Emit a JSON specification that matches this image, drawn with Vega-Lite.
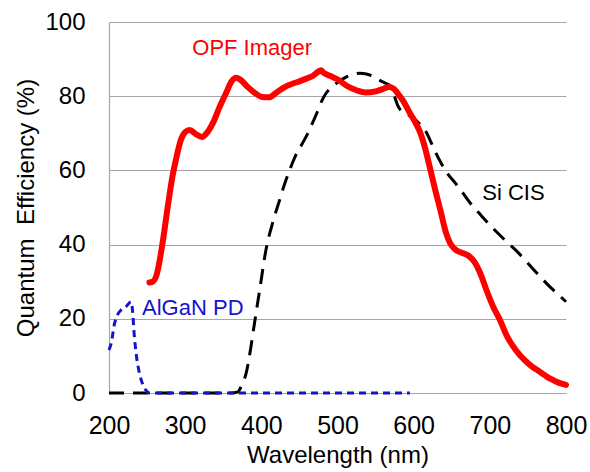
{
  "$schema": "https://vega.github.io/schema/vega-lite/v6.json",
  "width": 457,
  "height": 371,
  "autosize": {"type": "none"},
  "padding": {"left": 109, "top": 22, "right": 24, "bottom": 79},
  "background": "white",
  "config": {"view": {"stroke": null}, "font": "Liberation Sans"},
  "datasets": {
    "opf": [
      {"series": "OPF Imager", "wl": 253, "qe": 29.8}, {"series": "OPF Imager", "wl": 258, "qe": 30.1},
      {"series": "OPF Imager", "wl": 262, "qe": 31.5}, {"series": "OPF Imager", "wl": 270, "qe": 40},
      {"series": "OPF Imager", "wl": 277, "qe": 50}, {"series": "OPF Imager", "wl": 283, "qe": 58},
      {"series": "OPF Imager", "wl": 288, "qe": 63}, {"series": "OPF Imager", "wl": 294, "qe": 68},
      {"series": "OPF Imager", "wl": 300, "qe": 70.3}, {"series": "OPF Imager", "wl": 306, "qe": 70.9},
      {"series": "OPF Imager", "wl": 314, "qe": 69.8}, {"series": "OPF Imager", "wl": 322, "qe": 69},
      {"series": "OPF Imager", "wl": 330, "qe": 70.5}, {"series": "OPF Imager", "wl": 337, "qe": 73},
      {"series": "OPF Imager", "wl": 345, "qe": 77}, {"series": "OPF Imager", "wl": 354, "qe": 81},
      {"series": "OPF Imager", "wl": 361, "qe": 84}, {"series": "OPF Imager", "wl": 367, "qe": 85},
      {"series": "OPF Imager", "wl": 374, "qe": 84.2}, {"series": "OPF Imager", "wl": 382, "qe": 82.5},
      {"series": "OPF Imager", "wl": 392, "qe": 80.8}, {"series": "OPF Imager", "wl": 401, "qe": 79.8},
      {"series": "OPF Imager", "wl": 410, "qe": 79.7}, {"series": "OPF Imager", "wl": 420, "qe": 81},
      {"series": "OPF Imager", "wl": 430, "qe": 82.4}, {"series": "OPF Imager", "wl": 440, "qe": 83.3},
      {"series": "OPF Imager", "wl": 450, "qe": 84}, {"series": "OPF Imager", "wl": 460, "qe": 84.8},
      {"series": "OPF Imager", "wl": 468, "qe": 85.5}, {"series": "OPF Imager", "wl": 474, "qe": 86.5},
      {"series": "OPF Imager", "wl": 478, "qe": 87}, {"series": "OPF Imager", "wl": 482, "qe": 86.3},
      {"series": "OPF Imager", "wl": 490, "qe": 85.5}, {"series": "OPF Imager", "wl": 502, "qe": 84.3},
      {"series": "OPF Imager", "wl": 512, "qe": 82.8}, {"series": "OPF Imager", "wl": 525, "qe": 81.6},
      {"series": "OPF Imager", "wl": 537, "qe": 81}, {"series": "OPF Imager", "wl": 550, "qe": 81.3},
      {"series": "OPF Imager", "wl": 560, "qe": 82}, {"series": "OPF Imager", "wl": 568, "qe": 82.5},
      {"series": "OPF Imager", "wl": 574, "qe": 82}, {"series": "OPF Imager", "wl": 580, "qe": 80.5},
      {"series": "OPF Imager", "wl": 586, "qe": 78.8}, {"series": "OPF Imager", "wl": 595, "qe": 75.5},
      {"series": "OPF Imager", "wl": 602, "qe": 73}, {"series": "OPF Imager", "wl": 608, "qe": 70.5},
      {"series": "OPF Imager", "wl": 615, "qe": 66}, {"series": "OPF Imager", "wl": 621, "qe": 61},
      {"series": "OPF Imager", "wl": 628, "qe": 55}, {"series": "OPF Imager", "wl": 636, "qe": 48.5},
      {"series": "OPF Imager", "wl": 642, "qe": 43.5}, {"series": "OPF Imager", "wl": 648, "qe": 40.3},
      {"series": "OPF Imager", "wl": 655, "qe": 38.6}, {"series": "OPF Imager", "wl": 663, "qe": 37.8},
      {"series": "OPF Imager", "wl": 672, "qe": 37}, {"series": "OPF Imager", "wl": 680, "qe": 35.3},
      {"series": "OPF Imager", "wl": 688, "qe": 32}, {"series": "OPF Imager", "wl": 696, "qe": 27.5},
      {"series": "OPF Imager", "wl": 705, "qe": 23}, {"series": "OPF Imager", "wl": 713, "qe": 19.8},
      {"series": "OPF Imager", "wl": 722, "qe": 15.5}, {"series": "OPF Imager", "wl": 734, "qe": 11.6},
      {"series": "OPF Imager", "wl": 745, "qe": 9}, {"series": "OPF Imager", "wl": 755, "qe": 7.2},
      {"series": "OPF Imager", "wl": 765, "qe": 5.8}, {"series": "OPF Imager", "wl": 780, "qe": 3.8},
      {"series": "OPF Imager", "wl": 790, "qe": 2.8}, {"series": "OPF Imager", "wl": 800, "qe": 2.2}
    ],
    "si": [
      {"series": "Si CIS", "wl": 200, "qe": 0}, {"series": "Si CIS", "wl": 300, "qe": 0},
      {"series": "Si CIS", "wl": 360, "qe": 0}, {"series": "Si CIS", "wl": 369, "qe": 0.3},
      {"series": "Si CIS", "wl": 375, "qe": 2.5}, {"series": "Si CIS", "wl": 380, "qe": 5.3},
      {"series": "Si CIS", "wl": 386, "qe": 12}, {"series": "Si CIS", "wl": 391, "qe": 18.8},
      {"series": "Si CIS", "wl": 398, "qe": 28}, {"series": "Si CIS", "wl": 406, "qe": 38.5},
      {"series": "Si CIS", "wl": 415, "qe": 46}, {"series": "Si CIS", "wl": 424, "qe": 52},
      {"series": "Si CIS", "wl": 430, "qe": 56}, {"series": "Si CIS", "wl": 437, "qe": 60},
      {"series": "Si CIS", "wl": 445, "qe": 64}, {"series": "Si CIS", "wl": 454, "qe": 67.3},
      {"series": "Si CIS", "wl": 461, "qe": 70}, {"series": "Si CIS", "wl": 467, "qe": 72.7},
      {"series": "Si CIS", "wl": 474, "qe": 76}, {"series": "Si CIS", "wl": 480, "qe": 79},
      {"series": "Si CIS", "wl": 485, "qe": 80.8}, {"series": "Si CIS", "wl": 493, "qe": 82.5},
      {"series": "Si CIS", "wl": 502, "qe": 84}, {"series": "Si CIS", "wl": 510, "qe": 85},
      {"series": "Si CIS", "wl": 520, "qe": 85.8}, {"series": "Si CIS", "wl": 529, "qe": 86.2},
      {"series": "Si CIS", "wl": 538, "qe": 86}, {"series": "Si CIS", "wl": 545, "qe": 85.5},
      {"series": "Si CIS", "wl": 551, "qe": 84.8}, {"series": "Si CIS", "wl": 556, "qe": 84.2},
      {"series": "Si CIS", "wl": 563, "qe": 83.5}, {"series": "Si CIS", "wl": 570, "qe": 82.6},
      {"series": "Si CIS", "wl": 574, "qe": 80.5}, {"series": "Si CIS", "wl": 579, "qe": 77.5},
      {"series": "Si CIS", "wl": 585, "qe": 75.8}, {"series": "Si CIS", "wl": 592, "qe": 75},
      {"series": "Si CIS", "wl": 599, "qe": 74.2}, {"series": "Si CIS", "wl": 608, "qe": 72.5},
      {"series": "Si CIS", "wl": 616, "qe": 70.5}, {"series": "Si CIS", "wl": 623, "qe": 67.5},
      {"series": "Si CIS", "wl": 629, "qe": 64.8}, {"series": "Si CIS", "wl": 636, "qe": 62},
      {"series": "Si CIS", "wl": 645, "qe": 59}, {"series": "Si CIS", "wl": 655, "qe": 56.5},
      {"series": "Si CIS", "wl": 665, "qe": 53.8}, {"series": "Si CIS", "wl": 675, "qe": 51},
      {"series": "Si CIS", "wl": 688, "qe": 48},
      {"series": "Si CIS", "wl": 700, "qe": 45.3}, {"series": "Si CIS", "wl": 712, "qe": 42.8},
      {"series": "Si CIS", "wl": 722, "qe": 40.8}, {"series": "Si CIS", "wl": 734, "qe": 38.5},
      {"series": "Si CIS", "wl": 750, "qe": 35}, {"series": "Si CIS", "wl": 765, "qe": 31.6},
      {"series": "Si CIS", "wl": 780, "qe": 28.4}, {"series": "Si CIS", "wl": 790, "qe": 26.5},
      {"series": "Si CIS", "wl": 800, "qe": 24.6}
    ],
    "algan": [
      {"series": "AlGaN PD", "wl": 200, "qe": 11.6}, {"series": "AlGaN PD", "wl": 203, "qe": 13.5},
      {"series": "AlGaN PD", "wl": 207, "qe": 18.5}, {"series": "AlGaN PD", "wl": 211, "qe": 21},
      {"series": "AlGaN PD", "wl": 216, "qe": 22.4}, {"series": "AlGaN PD", "wl": 222, "qe": 23.2},
      {"series": "AlGaN PD", "wl": 229, "qe": 24.6}, {"series": "AlGaN PD", "wl": 231, "qe": 22},
      {"series": "AlGaN PD", "wl": 233, "qe": 16}, {"series": "AlGaN PD", "wl": 236, "qe": 10},
      {"series": "AlGaN PD", "wl": 240, "qe": 5.3}, {"series": "AlGaN PD", "wl": 245, "qe": 2},
      {"series": "AlGaN PD", "wl": 250, "qe": 0.4}, {"series": "AlGaN PD", "wl": 253, "qe": 0},
      {"series": "AlGaN PD", "wl": 300, "qe": 0}, {"series": "AlGaN PD", "wl": 400, "qe": 0},
      {"series": "AlGaN PD", "wl": 500, "qe": 0}, {"series": "AlGaN PD", "wl": 595, "qe": 0}
    ],
    "labels": [
      {"series": "OPF Imager", "wl": 388, "qe": 91.1},
      {"series": "Si CIS", "wl": 731, "qe": 52.0},
      {"series": "AlGaN PD", "wl": 310, "qe": 21.0}
    ]
  },
  "encoding": {
    "x": {
      "field": "wl", "type": "quantitative",
      "scale": {"domain": [200, 800], "nice": false, "zero": false},
      "axis": {
        "title": "Wavelength (nm)", "values": [200, 300, 400, 500, 600, 700, 800],
        "grid": false, "ticks": false, "tickSize": 0, "labelPadding": 20,
        "domainColor": "#a6a6a6", "domainWidth": 1.2,
        "labelFont": "Liberation Sans", "labelFontSize": 25, "labelColor": "#000000",
        "titleFont": "Liberation Sans", "titleFontSize": 24, "titleFontWeight": "normal",
        "titleColor": "#000000", "titlePadding": 5, "labelFlush": false, "labelOverlap": false
      }
    },
    "y": {
      "field": "qe", "type": "quantitative",
      "scale": {"domain": [0, 100], "nice": false},
      "axis": {
        "title": "Quantum\u00a0 Efficiency (%)", "values": [0, 20, 40, 60, 80, 100],
        "grid": true, "gridColor": "#a6a6a6", "gridWidth": 1.2,
        "ticks": false, "tickSize": 0, "labelPadding": 24,
        "domainColor": "#a6a6a6", "domainWidth": 1.2,
        "labelFont": "Liberation Sans", "labelFontSize": 24, "labelColor": "#000000",
        "titleFont": "Liberation Sans", "titleFontSize": 24, "titleFontWeight": "normal",
        "titleColor": "#000000", "titlePadding": 6, "labelFlush": false, "labelOverlap": false
      }
    },
    "color": {
      "field": "series", "type": "nominal", "legend": null,
      "scale": {"domain": ["OPF Imager", "Si CIS", "AlGaN PD"], "range": ["#ff0000", "#000000", "#1414cc"]}
    }
  },
  "layer": [
    {"data": {"name": "si"}, "mark": {"type": "line", "interpolate": "monotone", "strokeWidth": 3, "strokeDash": [15, 9], "clip": false}},
    {"data": {"name": "algan"}, "mark": {"type": "line", "interpolate": "monotone", "strokeWidth": 3, "strokeDash": [7, 5], "clip": false}},
    {"data": {"name": "opf"}, "mark": {"type": "line", "interpolate": "monotone", "strokeWidth": 6, "strokeCap": "round", "strokeJoin": "round"}},
    {"data": {"name": "labels"}, "mark": {"type": "text", "font": "Liberation Sans", "fontSize": 22, "align": "center", "baseline": "alphabetic"}, "encoding": {"text": {"field": "series"}}}
  ]
}
